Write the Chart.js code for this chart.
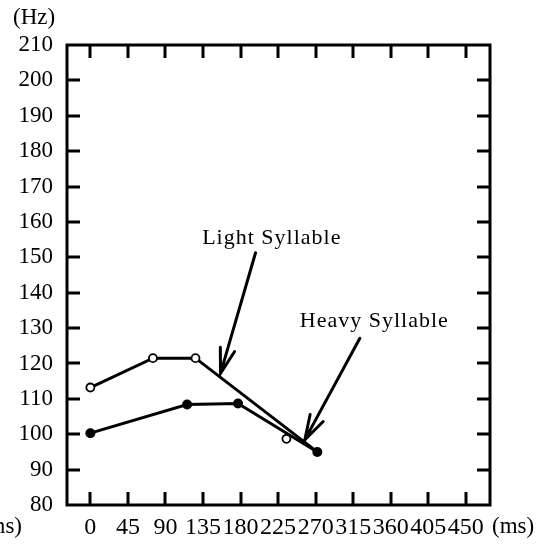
<!DOCTYPE html>
<html>
<head>
<meta charset="utf-8">
<script src="https://cdn.jsdelivr.net/npm/chart.js@4/dist/chart.umd.min.js"></script>
<style>
  html, body { margin: 0; padding: 0; background: #fff; }
  #wrap { position: relative; width: 544px; height: 546px; }
</style>
</head>
<body>
<div id="wrap"><canvas id="c" width="544" height="546"></canvas></div>
<script>
// Time axis (ms) and pitch axis (Hz)
const timeTicks = [0, 45, 90, 135, 180, 225, 270, 315, 360, 405, 450];
const timeMin = -28, timeMax = 479;
const hzTicks = [80, 90, 100, 110, 120, 130, 140, 150, 160, 170, 180, 190, 200, 210];
const hzMin = 80, hzMax = 210;

// Light syllable contour: open circles, line ends at the shared final point
const lightTime = [0, 75, 126, 272];
const lightHz = [113.2, 121.5, 121.5, 95.0];
const lightMarked = [true, true, true, false];
// Light syllable point sitting off the line
const lightExtraTime = [235];
const lightExtraHz = [98.7];

// Heavy syllable contour: filled circles
const heavyTime = [0, 116, 177, 272];
const heavyHz = [100.3, 108.4, 108.7, 95.0];

// Callouts: label text, label anchor, arrow tail and arrow tip (ms, Hz)
const calloutText = ['Light Syllable', 'Heavy Syllable'];
const calloutAnchor = [[134, 153.8], [251, 130.4]];
const calloutTail = [[198, 151.3], [323, 127.1]];
const calloutTip = [[156, 117.2], [257, 98.4]];

const FONT = '"Liberation Serif", "Times New Roman", serif';

const toPts = (xs, ys) => xs.map((x, i) => ({ x, y: ys[i] }));

const framePlugin = {
  id: 'frame',
  afterDatasetsDraw(chart) {
    const { ctx, chartArea: a, scales } = chart;
    const xs = scales.x, ys = scales.y;
    ctx.save();
    ctx.strokeStyle = '#000';
    ctx.lineWidth = 3;
    ctx.lineCap = 'butt';
    ctx.strokeRect(a.left, a.top, a.right - a.left, a.bottom - a.top);
    const tl = 13;
    ctx.beginPath();
    timeTicks.forEach(t => {
      const px = Math.round(xs.getPixelForValue(t));
      ctx.moveTo(px, a.top); ctx.lineTo(px, a.top + tl);
      ctx.moveTo(px, a.bottom); ctx.lineTo(px, a.bottom - tl);
    });
    hzTicks.forEach(h => {
      if (h === hzMin || h === hzMax) return;
      const py = Math.round(ys.getPixelForValue(h));
      ctx.moveTo(a.left, py); ctx.lineTo(a.left + tl, py);
      ctx.moveTo(a.right, py); ctx.lineTo(a.right - tl, py);
    });
    ctx.stroke();

    // callout arrows
    ctx.lineWidth = 3;
    ctx.lineCap = 'round';
    ctx.lineJoin = 'miter';
    calloutTail.forEach((tail, i) => {
      const tip = calloutTip[i];
      const x1 = xs.getPixelForValue(tail[0]), y1 = ys.getPixelForValue(tail[1]);
      const x2 = xs.getPixelForValue(tip[0]), y2 = ys.getPixelForValue(tip[1]);
      const ang = Math.atan2(y2 - y1, x2 - x1);
      const head = 26, spread = 0.29;
      ctx.beginPath();
      ctx.moveTo(x1, y1); ctx.lineTo(x2, y2);
      ctx.moveTo(x2 - head * Math.cos(ang - spread), y2 - head * Math.sin(ang - spread));
      ctx.lineTo(x2, y2);
      ctx.lineTo(x2 - head * Math.cos(ang + spread), y2 - head * Math.sin(ang + spread));
      ctx.stroke();
    });

    // callout labels
    ctx.fillStyle = '#000';
    ctx.font = '22px ' + FONT;
    ctx.textBaseline = 'alphabetic';
    ctx.textAlign = 'left';
    try { ctx.letterSpacing = '1px'; } catch (e) {}
    calloutText.forEach((t, i) => {
      ctx.fillText(t, xs.getPixelForValue(calloutAnchor[i][0]), ys.getPixelForValue(calloutAnchor[i][1]));
    });
    try { ctx.letterSpacing = '0px'; } catch (e) {}

    // unit labels
    ctx.font = '23px ' + FONT;
    ctx.textBaseline = 'middle';
    ctx.fillText('(Hz)', 13, 18);
    ctx.fillText('(ms)', 492, 527);
    ctx.textAlign = 'right';
    ctx.fillText('(ms)', 22, 527);
    ctx.restore();
  }
};

new Chart(document.getElementById('c'), {
  type: 'scatter',
  data: {
    datasets: [
      {
        label: 'Light Syllable',
        data: toPts(lightTime, lightHz),
        showLine: true,
        borderColor: '#000',
        borderWidth: 3,
        pointRadius: lightMarked.map(m => m ? 4 : 0),
        pointBorderWidth: 1.8,
        pointBackgroundColor: '#fff',
        pointBorderColor: '#000',
        tension: 0
      },
      {
        label: 'Light Syllable (off-line)',
        data: toPts(lightExtraTime, lightExtraHz),
        showLine: false,
        pointRadius: 4,
        pointBorderWidth: 1.8,
        pointBackgroundColor: '#fff',
        pointBorderColor: '#000'
      },
      {
        label: 'Heavy Syllable',
        data: toPts(heavyTime, heavyHz),
        showLine: true,
        borderColor: '#000',
        borderWidth: 3,
        pointRadius: 5,
        pointBorderWidth: 0,
        pointBackgroundColor: '#000',
        pointBorderColor: '#000',
        tension: 0
      }
    ]
  },
  plugins: [framePlugin],
  options: {
    responsive: false,
    animation: false,
    events: [],
    layout: { padding: { top: 45, right: 54, left: 0, bottom: 0 } },
    plugins: { legend: { display: false }, tooltip: { enabled: false } },
    scales: {
      x: {
        type: 'linear',
        min: timeMin,
        max: timeMax,
        afterBuildTicks: s => { s.ticks = timeTicks.map(v => ({ value: v })); },
        afterFit: s => { s.height = 41; },
        grid: { display: false, drawTicks: false },
        border: { display: false },
        ticks: {
          autoSkip: false,
          maxRotation: 0,
          minRotation: 0,
          padding: 8,
          color: '#000',
          font: { family: FONT, size: 24 },
          callback: v => String(v)
        }
      },
      y: {
        type: 'linear',
        min: hzMin,
        max: hzMax,
        afterBuildTicks: s => { s.ticks = hzTicks.map(v => ({ value: v })); },
        afterFit: s => { s.width = 67; },
        grid: { display: false, drawTicks: false },
        border: { display: false },
        ticks: {
          padding: 14,
          color: '#000',
          font: { family: FONT, size: 23 },
          callback: v => String(v)
        }
      }
    }
  }
});
</script>
</body>
</html>
